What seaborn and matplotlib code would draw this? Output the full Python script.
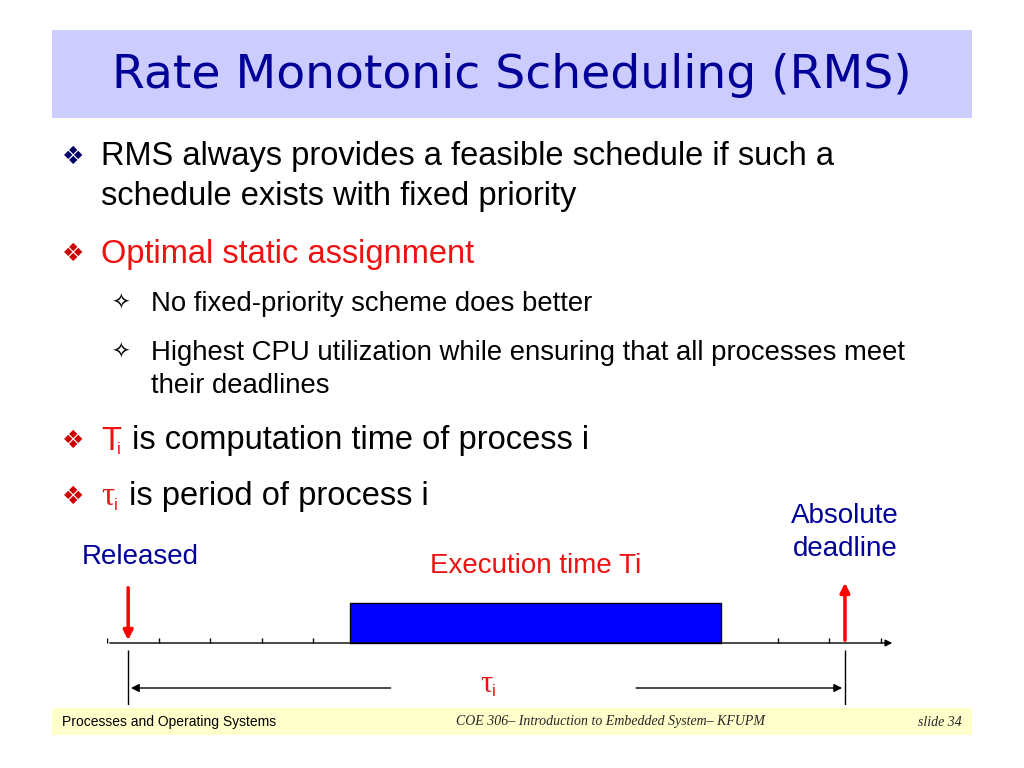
import matplotlib
matplotlib.use("Agg")
import matplotlib.pyplot as plt
from matplotlib.patches import Rectangle
import seaborn as sns

sns.set_theme(style="white")

title = "Rate Monotonic Scheduling (RMS)"
bullets = ["RMS always provides a feasible schedule if such a",
           "schedule exists with fixed priority"]
sub_items = ["No fixed-priority scheme does better",
             "Highest CPU utilization while ensuring that all processes meet",
             "their deadlines"]
# timeline data (time units)
release_t = 0.41
deadline_t = 14.3
exec_start, exec_end = 4.7, 11.9
tick_pos = [1, 2, 3, 4, 13, 14, 15]
footer = ["Processes and Operating Systems",
          "COE 306\u2013 Introduction to Embedded System\u2013 KFUPM", "slide 34"]

W, H = 1024, 768
fig = plt.figure(figsize=(W / 100, H / 100), dpi=100)
ax = fig.add_axes([0, 0, 1, 1])
ax.set_xlim(0, W); ax.set_ylim(H, 0); ax.axis("off")

SANS = ["Liberation Sans", "DejaVu Sans"]
ax.add_patch(Rectangle((52, 30), 920, 88, color="#CCCCFF", lw=0))
ax.text(512, 76, title, fontsize=34, color="#000099", ha="center", va="center",
        family=["DejaVu Sans"])

def t(x, y, s, size=20, color="black", **kw):
    ax.text(x, y, s, fontsize=size, color=color, va="center", family=SANS, **kw)

B = 23.5
S = 19.8
t(62, 157, "\u2756", 18, color="#000066")
t(101, 157, bullets[0], B)
t(101, 196, bullets[1], B)
t(62, 254, "\u2756", 18, color="#CC0000")
t(101, 254, "Optimal static assignment", B, color="#EE1111")
t(111, 304, "\u2727", 16)
t(151, 304, sub_items[0], S)
t(111, 353, "\u2727", 16)
t(151, 353, sub_items[1], S)
t(151, 386, sub_items[2], S)
t(62, 441, "\u2756", 18, color="#CC0000")
t(101, 441, "T", B, color="#EE1111")
t(117, 450, "i", 12, color="#EE1111")
t(123, 441, " is computation time of process i", B)
t(62, 497, "\u2756", 18, color="#CC0000")
ax.text(101, 497, "\u03c4", fontsize=B, color="#EE1111", va="center", family=["Liberation Serif"])
t(114, 505, "i", 12, color="#EE1111")
t(120, 497, " is period of process i", B)

t(82, 557, "Released", 20, color="#000099")
t(430, 566, "Execution time Ti", 20, color="#EE1111")
t(845, 516, "Absolute", 20, color="#000099", ha="center")
t(845, 549, "deadline", 20, color="#000099", ha="center")

# timeline axes
ta = fig.add_axes([107 / W, 1 - 705 / H, (895 - 107) / W, (705 - 580) / H])
ta.set_xlim(0, 15.27); ta.set_ylim(-62, 63); ta.axis("off")
ta.annotate("", xy=(15.27, 0), xytext=(0, 0),
            arrowprops=dict(arrowstyle="-|>", color="black", lw=1, mutation_scale=10))
ta.vlines(tick_pos, 0, 5, color="black", lw=1)
ta.vlines([0], 0, 5, color="black", lw=1)
ta.barh([20], [exec_end - exec_start], left=[exec_start], height=40,
        color="#0000FF", edgecolor="black", lw=1)
ta.annotate("", xy=(release_t, 0), xytext=(release_t, 58),
            arrowprops=dict(arrowstyle="-|>", color="red", lw=2.5, mutation_scale=14))
ta.annotate("", xy=(deadline_t, 63), xytext=(deadline_t, 0),
            arrowprops=dict(arrowstyle="-|>", color="red", lw=2.5, mutation_scale=14))
ta.vlines([release_t, deadline_t], -62, -7, color="black", lw=1)
ta.annotate("", xy=(release_t, -45), xytext=(5.55, -45),
            arrowprops=dict(arrowstyle="-|>", color="black", lw=1, mutation_scale=12))
ta.annotate("", xy=(deadline_t, -45), xytext=(10.2, -45),
            arrowprops=dict(arrowstyle="-|>", color="black", lw=1, mutation_scale=12))
ax.text(480, 685, "\u03c4", fontsize=22, color="#EE1111", va="center", family=["Liberation Serif"])
t(492, 692, "i", 12, color="#EE1111")

ax.add_patch(Rectangle((52, 708), 920, 27, color="#FFFFCC", lw=0))
t(62, 722, footer[0], 10)
ax.text(610, 722, footer[1], fontsize=10, style="italic", ha="center", va="center",
        family=["Liberation Serif"])
ax.text(962, 722, footer[2], fontsize=10, style="italic", ha="right", va="center",
        family=["Liberation Serif"])

fig.savefig("out.png", dpi=100)
